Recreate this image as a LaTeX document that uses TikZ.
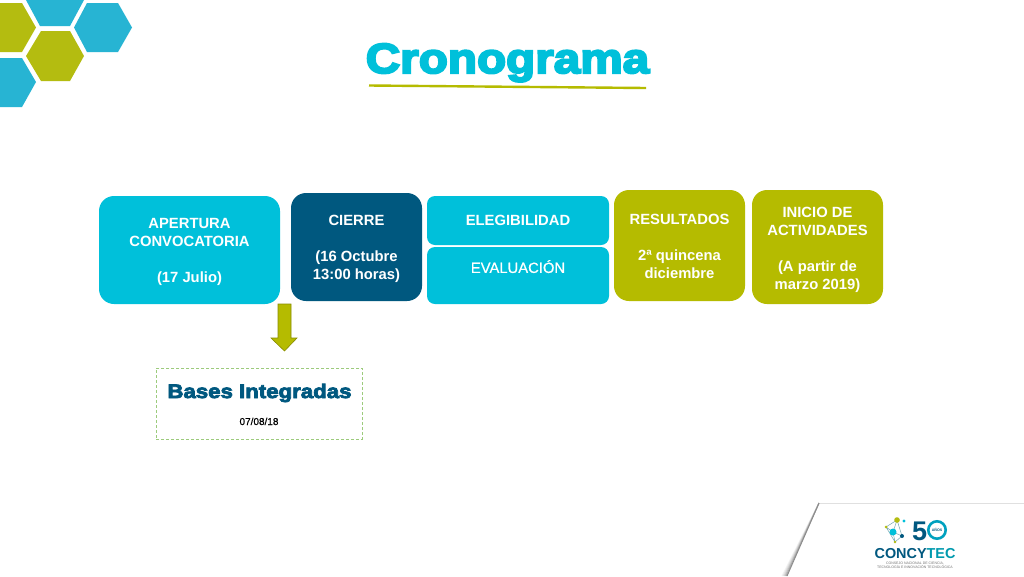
\documentclass[tikz,border=0pt]{standalone}
\usepackage{fontspec}
\setmainfont{Liberation Sans}
\newfontfamily\heavyfont[FakeBold=5,FakeStretch=1.135]{Liberation Sans Bold}
\newfontfamily\heavysub[FakeBold=4,FakeStretch=1.14]{Liberation Sans Bold}
\newfontfamily\boldsans{Liberation Sans Bold}
\newfontfamily\midsans[FakeBold=0.6]{Liberation Sans}
\newcommand{\topgap}[1]{\rule{0pt}{#1pt}}
\definecolor{cyanbox}{HTML}{00C0DA}
\definecolor{navybox}{HTML}{00587F}
\definecolor{olivebox}{HTML}{B5BB00}
\definecolor{hexblue}{HTML}{27B4D3}
\definecolor{hexolive}{HTML}{B4BC10}
\definecolor{linegreen}{HTML}{9CCB7C}
\tikzset{
  stagebox/.style={rounded corners=#1,align=center,text=white,font=\boldsans\fontsize{14.8}{18}\selectfont,inner sep=0pt},
}
\begin{document}
\begin{tikzpicture}[x=1pt,y=-1pt]
\useasboundingbox (0,0) rectangle (1024,576);
\fill[white] (0,0) rectangle (1024,576);
% hexagons
\fill[hexblue] (26,0) -- (84,0) -- (70,26) -- (40,26) -- cycle;
\fill[hexblue] (87,3) -- (118,3) -- (132,27.5) -- (118,52) -- (87,52) -- (74,27.5) -- cycle;
\fill[hexolive] (41,31) -- (70,31) -- (84,56) -- (70,81) -- (41,81) -- (26,56) -- cycle;
\fill[hexolive] (0,3) -- (22,3) -- (36,27.5) -- (22,52) -- (0,52) -- cycle;
\fill[hexblue] (0,58) -- (22,58) -- (36,82) -- (22,107) -- (0,107) -- cycle;
% title
\node[anchor=base,text=cyanbox,font=\heavyfont\fontsize{42}{42}\selectfont,inner sep=0pt] (title) at (507.5,73) {Cronograma};
\draw[olivebox,line width=2.4pt] (369,85.5) -- (646,88);
% boxes
\node[stagebox=15pt,fill=cyanbox,minimum width=181pt,minimum height=108pt] (apertura) at (189.5,250) {\topgap{15}APERTURA\\CONVOCATORIA\\~\\(17 Julio)};
\node[stagebox=15pt,fill=navybox,minimum width=131pt,minimum height=108pt] (cierre) at (356.5,247) {\topgap{15}CIERRE\\~\\(16 Octubre\\13:00 horas)};
\node[stagebox=8pt,fill=cyanbox,minimum width=182pt,minimum height=49pt] (elegibilidad) at (518,220.5) {ELEGIBILIDAD};
\node[stagebox=8pt,fill=cyanbox,minimum width=182pt,minimum height=57pt,font=\midsans\fontsize{14.8}{18}\selectfont] (evaluacion) at (518,275.5) {EVALUACIÓN\\~};
\node[stagebox=15pt,fill=olivebox,minimum width=131pt,minimum height=111pt] (resultados) at (679.5,245.5) {\topgap{13}RESULTADOS\\~\\2ª quincena\\diciembre};
\node[stagebox=15pt,fill=olivebox,minimum width=131pt,minimum height=114pt] (inicio) at (817.5,247) {\topgap{15.5}INICIO DE\\ACTIVIDADES\\~\\(A partir de\\marzo 2019)};
% block arrow
\filldraw[fill=olivebox,draw=olivebox!75!black,line width=0.6pt] (278,304) -- (291,304) -- (291,338) -- (297,338) -- (284.5,351) -- (271,338) -- (278,338) -- cycle;
% bases box
\node[draw=linegreen,densely dashed,line width=0.7pt,minimum width=206pt,minimum height=71pt,inner sep=0pt] (bases) at (259,403.5) {};
\node[anchor=base,text=navybox,font=\heavysub\fontsize{19.5}{20}\selectfont,inner sep=0pt] (basestitle) at (259.5,398) {Bases Integradas};
\node[anchor=base,font=\midsans\fontsize{10}{10}\selectfont,text=black,inner sep=0pt] (basesdate) at (259,425) {07/08/18};
% corner
\draw[black!12,line width=1pt] (819,503) -- (1024,503);
\foreach \i/\g in {5/5,4/10,3/16,2/24,1/33,0/45}{
  \draw[black!\g,line width=1pt] (819,503) -- ({787-\i},576);
}
% logo
\draw[hexblue!60!black!60,line width=0.5pt] (897,520) -- (886,527) -- (895,542) -- (902,536) -- (897,520) -- (893,532) -- (902,536) (886,527) -- (893,532) -- (895,542);
\fill[hexolive] (897,520) circle (2.8pt);
\fill[hexolive] (886,527) circle (1.5pt);
\fill[cyanbox] (904,521) circle (1.6pt);
\fill[cyanbox] (893,532) circle (3.5pt);
\fill[navybox] (902,536) circle (2pt);
\fill[hexolive] (895,542) circle (1.3pt);
\node[anchor=base,text=navybox,font=\boldsans\fontsize{27}{27}\selectfont,inner sep=0pt] (five) at (919.5,540) {5};
\draw[cyanbox!70!navybox,line width=2.6pt] (937,530) circle (8.7pt);
\node[text=navybox,font=\boldsans\fontsize{3.6}{3.6}\selectfont,inner sep=0pt] (anos) at (937,530) {AÑOS};
\node[font=\boldsans\fontsize{14.4}{14}\selectfont,inner sep=0pt] (concytec) at (915,554) {\textcolor{navybox}{CONCY}\textcolor{cyanbox!80!black}{TEC}};
\node[font=\fontsize{3.5}{3.7}\selectfont,text=black!55,align=center,inner sep=0pt] (consejo) at (915,565) {CONSEJO NACIONAL DE CIENCIA,\\TECNOLOGÍA E INNOVACIÓN TECNOLÓGICA};
\end{tikzpicture}
\end{document}
